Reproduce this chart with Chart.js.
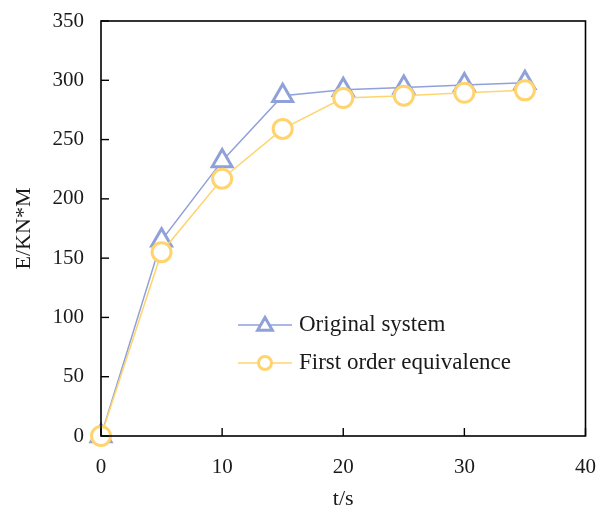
<!DOCTYPE html>
<html><head><meta charset="utf-8">
<script src="https://cdn.jsdelivr.net/npm/chart.js@4/dist/chart.umd.min.js"></script>
<style>html,body{margin:0;padding:0;background:#fff}#wrap{width:600px;height:516px}</style>
</head><body><div id="wrap"><canvas id="c" width="600" height="516"></canvas></div>
<script>
const timeValues = [0, 5, 10, 15, 20, 25, 30, 35];
const originalSystem = [0, 165, 232, 287, 292, 294, 296, 298];
const firstOrderEquivalence = [0, 155, 217, 259, 285, 287, 289.5, 291.5];
const seriesNames = ['Original system', 'First order equivalence'];
const xTicks = [0, 10, 20, 30, 40];
const yTicks = [0, 50, 100, 150, 200, 250, 300, 350];

const BLUE = '#8FA1D8', YELLOW = '#FFD46F';
const FONT = '"Liberation Serif", "Times New Roman", serif';
const TXT = '#1a1a1a';

const toPts = (ys) => timeValues.map((t, i) => ({x: t, y: ys[i]}));

const framePlugin = {
  id: 'frame',
  afterDraw(chart) {
    const {ctx, chartArea: a, scales} = chart;
    ctx.save();
    ctx.strokeStyle = '#000'; ctx.lineWidth = 1.6;
    ctx.strokeRect(a.left, a.top, a.right - a.left, a.bottom - a.top);
    ctx.lineWidth = 1.4;
    xTicks.forEach(v => {
      const px = scales.x.getPixelForValue(v);
      ctx.beginPath(); ctx.moveTo(px, a.bottom); ctx.lineTo(px, a.bottom - 8); ctx.stroke();
    });
    yTicks.forEach(v => {
      const py = scales.y.getPixelForValue(v);
      ctx.beginPath(); ctx.moveTo(a.left, py); ctx.lineTo(a.left + 8, py); ctx.stroke();
    });
    ctx.restore();
  }
};

const legendPlugin = {
  id: 'inlegend',
  afterDraw(chart) {
    const {ctx} = chart;
    const rowsY = [325, 363];
    ctx.save();
    chart.data.datasets.slice().sort((a,b)=>a.legendIndex-b.legendIndex).forEach((ds, i) => {
      const y = rowsY[i];
      ctx.strokeStyle = ds.borderColor; ctx.lineWidth = 1.5;
      ctx.beginPath(); ctx.moveTo(238, y); ctx.lineTo(292, y); ctx.stroke();
      ctx.strokeStyle = ds.pointBorderColor; ctx.fillStyle = '#fff'; ctx.lineWidth = 3;
      const tri = ds.pointStyle === 'triangle';
      Chart.helpers.drawPoint(ctx, {pointStyle: ds.pointStyle, radius: tri ? 8.5 : 6.5, borderWidth: 3}, 265, y + (tri ? 1 : 0));
      ctx.fillStyle = TXT;
      ctx.font = '23px ' + FONT;
      ctx.textBaseline = 'middle';
      ctx.textAlign = 'left';
      ctx.fillText(ds.label, 299, y);
    });
    ctx.restore();
  }
};

new Chart(document.getElementById('c'), {
  type: 'line',
  data: {
    datasets: [
      {label: seriesNames[0], legendIndex: 0, data: toPts(originalSystem), borderColor: BLUE, backgroundColor: '#fff',
       pointStyle: 'triangle', pointRadius: 11.5, pointBorderWidth: 3, pointBorderColor: BLUE, pointBackgroundColor: '#fff',
       borderWidth: 1.5, order: 2, clip: false},
      {label: seriesNames[1], legendIndex: 1, data: toPts(firstOrderEquivalence), borderColor: YELLOW, backgroundColor: '#fff',
       pointStyle: 'circle', pointRadius: 9.5, pointBorderWidth: 3, pointBorderColor: YELLOW, pointBackgroundColor: '#fff',
       borderWidth: 1.5, order: 1, clip: false}
    ]
  },
  options: {
    responsive: false, animation: false, devicePixelRatio: 1,
    layout: {padding: {left: 0, right: 10, top: 21, bottom: 0}},
    plugins: {legend: {display: false}, tooltip: {enabled: false}},
    scales: {
      x: {type: 'linear', min: 0, max: 40,
          afterBuildTicks: s => { s.ticks = xTicks.map(v => ({value: v})); },
          afterFit: s => { s.height = 80; s.paddingLeft = 0; s.paddingRight = 0; },
          grid: {display: false, drawTicks: false}, border: {display: false},
          ticks: {color: TXT, font: {family: FONT, size: 21}, padding: 19},
          title: {display: true, text: 't/s', color: TXT, font: {family: FONT, size: 22}, padding: {top: 5}}},
      y: {type: 'linear', min: 0, max: 350,
          afterBuildTicks: s => { s.ticks = yTicks.map(v => ({value: v})); },
          afterFit: s => { s.width = 101; s.paddingTop = 0; s.paddingBottom = 0; },
          grid: {display: false, drawTicks: false}, border: {display: false},
          ticks: {color: TXT, font: {family: FONT, size: 21}, padding: 17},
          title: {display: true, text: 'E/KN*M', color: TXT, font: {family: FONT, size: 22}, padding: {top: 11, bottom: 0}}}
    }
  },
  plugins: [framePlugin, legendPlugin]
});
</script></body></html>
